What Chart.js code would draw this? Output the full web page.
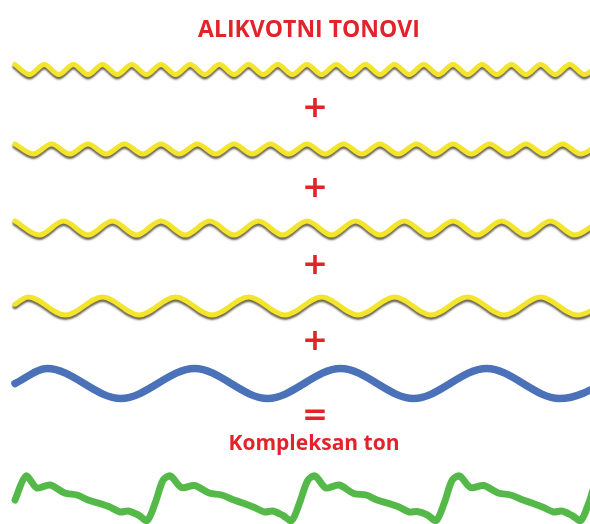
<!DOCTYPE html>
<html>
<head>
<meta charset="utf-8">
<title>Alikvotni tonovi</title>
<script src="https://cdn.jsdelivr.net/npm/chart.js@4.4.1/dist/chart.umd.min.js"></script>
<style>
  body { margin: 0; background: #fff; }
  #wrap { position: relative; width: 590px; height: 524px; overflow: hidden; }
  #wrap canvas { position: absolute; left: 0; top: 0; }
  .lbl {
    position: absolute; transform: translate(-50%, -50%);
    color: #e2232a; font-family: 'Open Sans', sans-serif; font-weight: 700;
    white-space: nowrap; line-height: 1;
  }
  .sym { font-family: 'DejaVu Sans', sans-serif; font-size: 31px; }
</style>
</head>
<body>
<div id="wrap">
  <canvas id="talasi" width="590" height="524"></canvas>
  <div class="lbl" style="left:309px; top:28px; font-size:23px;">ALIKVOTNI TONOVI</div>
  <div class="lbl sym" style="left:315px; top:106px;">+</div>
  <div class="lbl sym" style="left:315px; top:186px;">+</div>
  <div class="lbl sym" style="left:315px; top:263px;">+</div>
  <div class="lbl sym" style="left:315px; top:339px;">+</div>
  <div class="lbl sym" style="left:315px; top:413px;">=</div>
  <div class="lbl" style="left:314px; top:442px; font-size:21px;">Kompleksan ton</div>
</div>
<script>
// vreme u ms, osnovni ton ima periodu 10 ms
// vrednosti: 1 = breg, -1 = dolina

// 5. harmonik (gornji zuti talas)
const h5Vreme = [0,1,2,3,4,5,6,7,8,9,10,11,12,13,14,15,16,17,18,19,20,
  21,22,23,24,25,26,27,28,29,30,31,32,33,34,35,36,37,38,39,40];
const h5Vrednosti = [1,-1,1,-1,1,-1,1,-1,1,-1,1,-1,1,-1,1,-1,1,-1,1,-1,1,
  -1,1,-1,1,-1,1,-1,1,-1,1,-1,1,-1,1,-1,1,-1,1,-1,1];

// 4. harmonik
const h4Vreme = [0,1.25,2.5,3.75,5,6.25,7.5,8.75,10,11.25,12.5,13.75,15,16.25,17.5,18.75,
  20,21.25,22.5,23.75,25,26.25,27.5,28.75,30,31.25,32.5,33.75,35,36.25,37.5,38.75,40];
const h4Vrednosti = [1,-1,1,-1,1,-1,1,-1,1,-1,1,-1,1,-1,1,-1,
  1,-1,1,-1,1,-1,1,-1,1,-1,1,-1,1,-1,1,-1,1];

// 3. harmonik
const h3Vreme = [0,1.67,3.33,5,6.67,8.33,10,11.67,13.33,15,16.67,18.33,
  20,21.67,23.33,25,26.67,28.33,30,31.67,33.33,35,36.67,38.33,40];
const h3Vrednosti = [1,-1,1,-1,1,-1,1,-1,1,-1,1,-1,
  1,-1,1,-1,1,-1,1,-1,1,-1,1,-1,1];

// 2. harmonik
const h2Vreme = [0,0.9,3.45,6,8.5,11,13.5,16,18.5,21,23.5,26,28.5,31,33.5,36,38.5,41];
const h2Vrednosti = [0.2,1,-1,1,-1,1,-1,1,-1,1,-1,1,-1,1,-1,1,-1,1];

// osnovni ton (plavi)
const h1Vreme = [0,2.2,7.25,12.3,17.3,22.3,27.3,32.3,37.3,42.3];
const h1Vrednosti = [0,1,-1,1,-1,1,-1,1,-1,1];

// kompleksan ton (zeleni)
const kVreme = [0,0.75,1.5,2.4,3.4,4.25,5.0,5.7,6.5,7.2,7.75,8.45,9.05,9.6,10.15,10.65,
  11.4,12.3,13.3,14.15,14.9,15.6,16.4,17.1,17.65,18.35,18.95,19.5,20.05,20.55,
  21.3,22.2,23.2,24.05,24.8,25.5,26.3,27.0,27.55,28.25,28.85,29.4,29.95,30.45,
  31.2,32.1,33.1,33.95,34.7,35.4,36.2,36.9,37.45,38.15,38.75,39.3,39.85,40.35];
const kVrednosti = [0,0.96,0.48,0.6,0.28,0.2,0,-0.12,-0.28,-0.48,-0.44,-0.6,-0.82,-0.12,0.8,0.96,
  0.5,0.58,0.28,0.2,0.02,-0.12,-0.3,-0.48,-0.44,-0.62,-0.82,-0.1,0.78,0.96,
  0.48,0.6,0.26,0.2,0,-0.12,-0.28,-0.48,-0.46,-0.6,-0.82,-0.12,0.8,0.96,
  0.5,0.58,0.28,0.2,0.02,-0.12,-0.3,-0.48,-0.44,-0.62,-0.82,-0.12,0.8,0.96];

const VISINA = 524;
const ZUTA = '#f3e52b';

function tacke(vreme, vrednosti) {
  return vreme.map((t, i) => ({ x: t, y: vrednosti[i] }));
}

// svaka linija dobija svoju osu: centar trake i amplituda u pikselima
function osa(centar, amplituda) {
  return { display: false, min: (centar - VISINA) / amplituda, max: centar / amplituda };
}

function zutiTalas(vreme, vrednosti, osaId) {
  return {
    data: tacke(vreme, vrednosti),
    yAxisID: osaId,
    borderColor: ZUTA,
    borderWidth: 5,
    cubicInterpolationMode: 'monotone',
    senka: true
  };
}

const senka = {
  id: 'senka',
  beforeDatasetDraw(chart, args) {
    if (!chart.data.datasets[args.index].senka) return;
    const ctx = chart.ctx;
    ctx.save();
    ctx.shadowColor = 'rgba(75,65,45,0.8)';
    ctx.shadowOffsetY = 2.5;
    ctx.shadowBlur = 2;
  },
  afterDatasetDraw(chart, args) {
    if (chart.data.datasets[args.index].senka) chart.ctx.restore();
  }
};

new Chart(document.getElementById('talasi'), {
  type: 'line',
  data: {
    datasets: [
      zutiTalas(h5Vreme, h5Vrednosti, 'y5'),
      zutiTalas(h4Vreme, h4Vrednosti, 'y4'),
      zutiTalas(h3Vreme, h3Vrednosti, 'y3'),
      zutiTalas(h2Vreme, h2Vrednosti, 'y2'),
      {
        data: tacke(h1Vreme, h1Vrednosti),
        yAxisID: 'y1',
        borderColor: '#4b72b8',
        borderWidth: 7.5,
        cubicInterpolationMode: 'monotone'
      },
      {
        data: tacke(kVreme, kVrednosti),
        yAxisID: 'yk',
        borderColor: '#55b949',
        borderWidth: 7,
        tension: 0.3
      }
    ]
  },
  options: {
    responsive: false,
    animation: false,
    layout: { padding: 0 },
    elements: {
      point: { radius: 0 },
      line: { borderCapStyle: 'round', borderJoinStyle: 'round' }
    },
    plugins: { legend: { display: false }, tooltip: { enabled: false } },
    scales: {
      x: { type: 'linear', display: false, min: -15 / 14.6, max: 575 / 14.6 },
      y5: osa(69.5, 5),
      y4: osa(149, 5),
      y3: osa(228, 7),
      y2: osa(306, 9),
      y1: osa(383.5, 15),
      yk: osa(500, 25)
    }
  },
  plugins: [senka]
});
</script>
</body>
</html>
